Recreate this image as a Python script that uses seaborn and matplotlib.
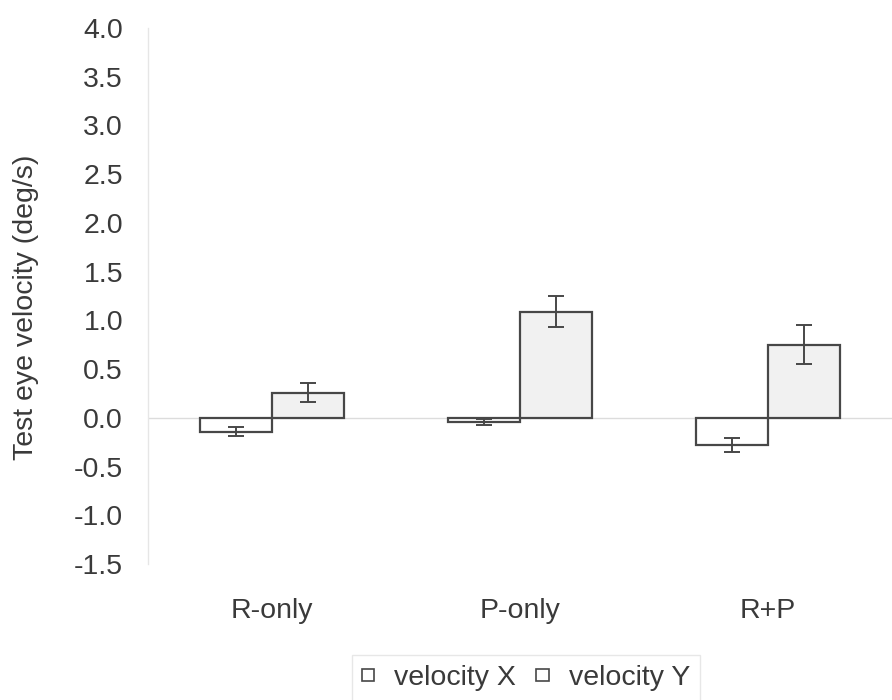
import pandas as pd
import matplotlib.pyplot as plt
import seaborn as sns

# chart values
conditions = ["R-only", "P-only", "R+P"]
vel_x = [-0.14, -0.04, -0.28]
vel_x_err = [0.05, 0.03, 0.07]
vel_y = [0.26, 1.09, 0.75]
vel_y_err = [0.10, 0.16, 0.20]
yticks = [-1.5, -1.0, -0.5, 0.0, 0.5, 1.0, 1.5, 2.0, 2.5, 3.0, 3.5, 4.0]

df = pd.DataFrame({
    "Condition": conditions * 2,
    "Series": ["velocity X"] * 3 + ["velocity Y"] * 3,
    "Value": vel_x + vel_y,
    "Err": vel_x_err + vel_y_err,
})

sns.set_style("white")
plt.rcParams["font.family"] = ["Liberation Sans", "DejaVu Sans"]
text_col = "#3a3a3a"
edge_col = "#474747"
fs = 20.5

fig = plt.figure(figsize=(8.92, 7), dpi=100)
ax = fig.add_axes([0.166, 0.194, 0.834, 0.766])

sns.barplot(data=df, x="Condition", y="Value", hue="Series",
            palette=["#ffffff", "#f1f1f1"], width=0.58, errorbar=None,
            edgecolor=edge_col, linewidth=1.6, ax=ax)

# error bars placed on the bar centres
for cont, errs in zip(ax.containers, [vel_x_err, vel_y_err]):
    for bar, e in zip(cont, errs):
        cx = bar.get_x() + bar.get_width() / 2
        top = bar.get_y() + bar.get_height()
        ax.errorbar(cx, top, yerr=e, fmt="none", ecolor=edge_col,
                    elinewidth=1.4, capsize=6, capthick=1.4, zorder=5)

ax.axhline(0, color="#dcdcdc", lw=1, zorder=0)
ax.set_xlim(-0.5, 2.5)
ax.set_ylim(-1.5, 4.0)
ax.set_yticks(yticks)
ax.set_yticklabels([f"{t:.1f}" for t in yticks])

for s in ["top", "right", "bottom"]:
    ax.spines[s].set_visible(False)
ax.spines["left"].set_color("#e6e6e6")
ax.spines["left"].set_linewidth(1)

ax.tick_params(axis="y", length=3, color="#e0e0e0", pad=15,
               labelsize=fs, labelcolor=text_col)
ax.tick_params(axis="x", length=0, pad=24, labelsize=fs, labelcolor=text_col)
ax.set_xlabel("")
ax.set_ylabel("Test eye velocity (deg/s)", fontsize=fs, color=text_col)
ax.yaxis.set_label_coords(-0.147, 0.48)

handles, labels = ax.get_legend_handles_labels()
for h in handles:
    h.set_facecolor("#ffffff")
    h.set_linewidth(1.2)
ax.legend(handles, labels, loc="upper center", bbox_to_anchor=(0.508, -0.17),
          ncol=2, frameon=True, fontsize=fs, handlelength=0.45, handleheight=0.28,
          handletextpad=0.7, columnspacing=0.7, edgecolor="#e2e2e2",
          fancybox=False, labelcolor=text_col, borderpad=0.35, borderaxespad=0)

fig.savefig("out.png", dpi=100, facecolor="white")
